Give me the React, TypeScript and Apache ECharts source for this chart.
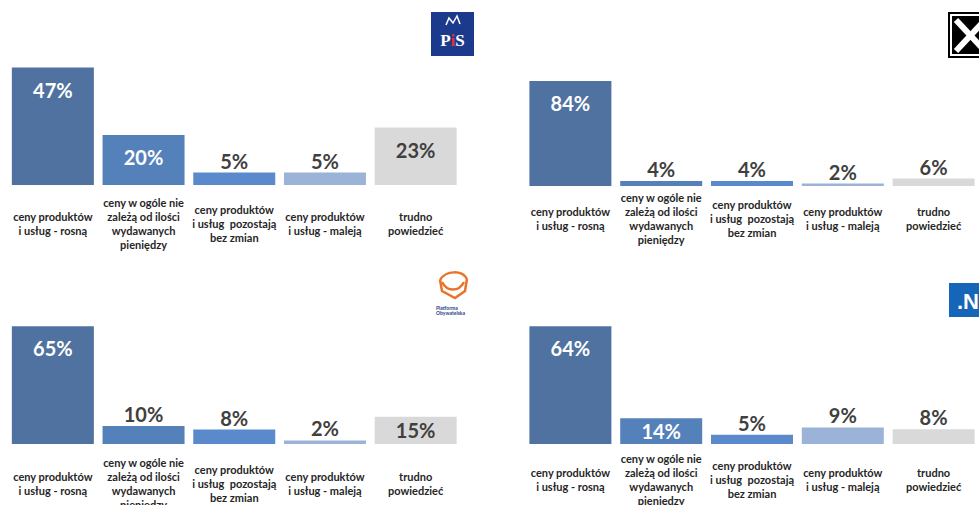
import React, { useEffect, useRef } from "react";
import * as echarts from "echarts";

const categories = [
  "ceny produktów\ni usług - rosną",
  "ceny w ogóle nie\nzależą od ilości\nwydawanych\npieniędzy",
  "ceny produktów\ni usług  pozostają\nbez zmian",
  "ceny produktów\ni usług - maleją",
  "trudno\npowiedzieć",
];
const pisValues = [47, 20, 5, 5, 23];
const kukizValues = [84, 4, 4, 2, 6];
const poValues = [65, 10, 8, 2, 15];
const nowoczesnaValues = [64, 14, 5, 9, 8];

const barColors = ["#4F72A0", "#5581BA", "#5A8ACB", "#9CB3D8", "#D9D9D9"];
const FONT = "Lato, 'Open Sans', sans-serif";

const panels = [
  { values: pisValues, grid: { left: 7.5, top: 60, width: 453.5, height: 125 }, max: 50, margin: 38 },
  { values: kukizValues, grid: { left: 525, top: 61, width: 454, height: 125 }, max: 100, margin: 32 },
  { values: poValues, grid: { left: 7.5, top: 319, width: 453.5, height: 125 }, max: 69, margin: 39 },
  { values: nowoczesnaValues, grid: { left: 525, top: 319, width: 454, height: 125 }, max: 68, margin: 35 },
];

export default function App() {
  const ref = useRef<HTMLDivElement>(null);
  useEffect(() => {
    document.body.style.margin = "0";
    const chart = echarts.init(ref.current!, null, { renderer: "svg" });
    const option: any = {
      animation: false,
      backgroundColor: "#ffffff",
      grid: panels.map((p) => ({ ...p.grid, containLabel: false, outerBoundsMode: "none" })),
      xAxis: panels.map((p, i) => ({
        type: "category",
        gridIndex: i,
        data: categories,
        axisLine: { show: false },
        axisTick: { show: false },
        axisLabel: {
          interval: 0,
          margin: p.margin,
          verticalAlign: "middle",
          align: "center",
          fontFamily: FONT,
          fontSize: 11,
          fontWeight: "bold",
          lineHeight: 14,
          color: "#262626",
        },
      })),
      yAxis: panels.map((p, i) => ({
        type: "value",
        gridIndex: i,
        min: 0,
        max: p.max,
        show: false,
        splitLine: { show: false },
      })),
      series: panels.map((p, i) => ({
        type: "bar",
        xAxisIndex: i,
        yAxisIndex: i,
        barWidth: 82,
        data: p.values.map((v, j) => {
          const px = (v / p.max) * p.grid.height;
          const inside = px >= 22;
          const centerOffset = Math.min(22, px / 2);
          return {
            value: v,
            itemStyle: { color: barColors[j] },
            label: {
              show: true,
              formatter: "{c}%",
              position: inside ? "insideTop" : "top",
              distance: inside ? Math.max(0, centerOffset - 10) : 2,
              fontFamily: FONT,
              fontSize: 20,
              fontWeight: "bold",
              color: inside && j < 4 ? "#ffffff" : "#404040",
            },
          };
        }),
      })),
      graphic: [
        // PiS logo
        { type: "rect", shape: { x: 431, y: 12, width: 43, height: 44 }, style: { fill: "#1B3A8C" } },
        {
          type: "polyline",
          shape: { points: [[446, 25], [449, 18], [453, 23], [457, 16], [460, 24]] },
          style: { stroke: "#ffffff", lineWidth: 1.5, fill: "none" },
        },
        {
          type: "text",
          x: 452.5,
          y: 40,
          style: {
            text: "{w|P}{r|i}{w|S}",
            align: "center",
            verticalAlign: "middle",
            rich: {
              w: { fill: "#ffffff", fontSize: 17, fontWeight: "bold", fontFamily: "'Liberation Serif', serif" },
              r: { fill: "#E0303A", fontSize: 17, fontWeight: "bold", fontFamily: "'Liberation Serif', serif" },
            },
          },
        },
        // Kukiz logo
        { type: "rect", shape: { x: 949, y: 13, width: 44, height: 44 }, style: { fill: "#ffffff", stroke: "#000000", lineWidth: 2 } },
        { type: "rect", shape: { x: 952, y: 16, width: 44, height: 38 }, style: { fill: "#000000" } },
        { type: "line", shape: { x1: 956, y1: 20, x2: 985, y2: 51 }, style: { stroke: "#ffffff", lineWidth: 6 } },
        { type: "line", shape: { x1: 985, y1: 20, x2: 956, y2: 51 }, style: { stroke: "#ffffff", lineWidth: 6 } },
        // PO logo
        {
          type: "bezierCurve",
          shape: { x1: 440, y1: 280, cpx1: 446, cpy1: 270, cpx2: 462, cpy2: 270, x2: 467, y2: 279 },
          style: { fill: "none", stroke: "#E8732A", lineWidth: 2.5 },
        },
        {
          type: "polyline",
          shape: { points: [[467, 279], [465, 291], [455, 298], [442, 291], [440, 280]] },
          style: { fill: "none", stroke: "#E8732A", lineWidth: 2.5 },
        },
        {
          type: "bezierCurve",
          shape: { x1: 442, y1: 282, cpx1: 447, cpy1: 292, cpx2: 459, cpy2: 292, x2: 464, y2: 282 },
          style: { fill: "none", stroke: "#E8732A", lineWidth: 2.5 },
        },
        {
          type: "text",
          x: 436,
          y: 305,
          style: { text: "Platforma\nObywatelska", fontSize: 5, lineHeight: 5, fontWeight: "bold", fill: "#2B3E8A", fontFamily: FONT },
        },
        // Nowoczesna logo
        { type: "rect", shape: { x: 949, y: 283, width: 40, height: 34 }, style: { fill: "#1565B8" } },
        {
          type: "text",
          x: 957,
          y: 301,
          style: { text: ".N", fill: "#ffffff", fontSize: 22, fontWeight: "bold", fontFamily: "'Liberation Sans', Arial, sans-serif", verticalAlign: "middle" },
        },
      ],
    };
    chart.setOption(option);
    return () => chart.dispose();
  }, []);
  return <div ref={ref} style={{ width: 979, height: 505 }} />;
}
